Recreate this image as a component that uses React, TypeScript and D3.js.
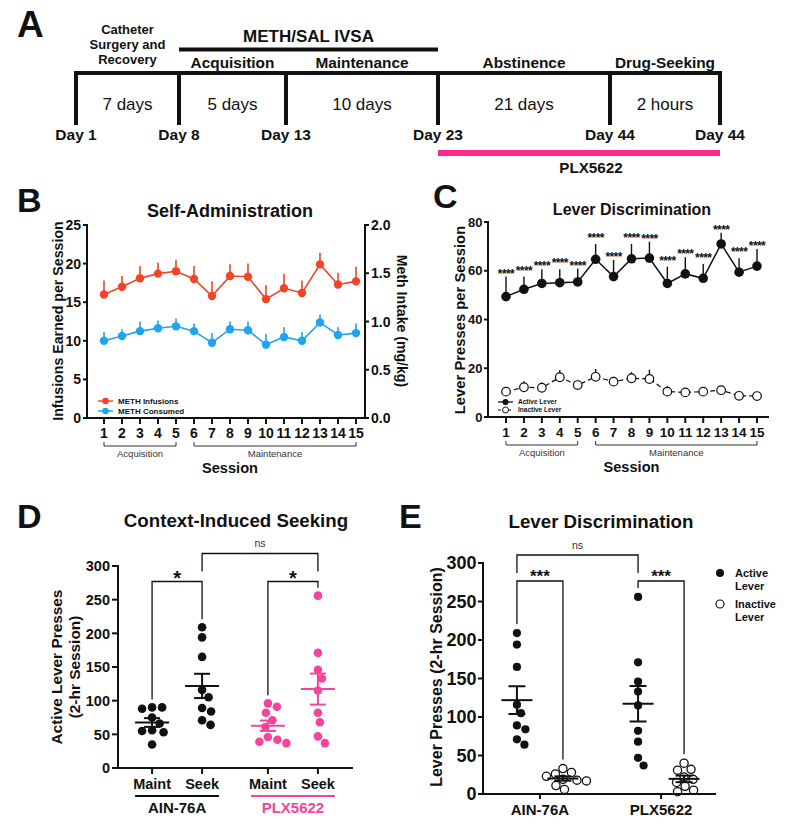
import React from "react";
import * as d3 from "d3";

const FONT = "'Liberation Sans', Arial, Helvetica, sans-serif";
const INK = "#111";
const RED = "#ef4526";
const BLUE = "#1fa4ef";
const PINK = "#f5449b";
const BAR_PINK = "#fc2a8b";

// ---- Panel A: timeline
const timelineDays = ["Day 1", "Day 8", "Day 13", "Day 23", "Day 44", "Day 44"];
const timelineDurations = ["7 days", "5 days", "10 days", "21 days", "2 hours"];
const timelinePhases = [
  ["Catheter", "Surgery and", "Recovery"],
  ["Acquisition"],
  ["Maintenance"],
  ["Abstinence"],
  ["Drug-Seeking"],
];
const ivsaLabel = "METH/SAL IVSA";
const treatmentLabel = "PLX5622";

// ---- Panels B & C: sessions
const sessions = [1, 2, 3, 4, 5, 6, 7, 8, 9, 10, 11, 12, 13, 14, 15];
const phaseNames = ["Acquisition", "Maintenance"];
const phaseStart = [1, 6];
const phaseEnd = [5, 15];

const methInfusions = [16.0, 17.0, 18.1, 18.7, 19.0, 18.0, 15.8, 18.4, 18.3, 15.4, 16.8, 16.2, 19.9, 17.3, 17.7];
const methInfusionsSem = [1.8, 1.4, 1.6, 1.4, 1.5, 1.7, 1.9, 1.5, 1.7, 1.8, 1.9, 1.6, 1.5, 1.5, 1.9];
const methConsumed = [0.8, 0.85, 0.9, 0.93, 0.95, 0.9, 0.78, 0.92, 0.91, 0.76, 0.84, 0.8, 0.99, 0.86, 0.88];
const methConsumedSem = [0.09, 0.07, 0.1, 0.08, 0.08, 0.08, 0.1, 0.08, 0.09, 0.11, 0.1, 0.09, 0.08, 0.08, 0.1];

const activeLever = [49.4, 52.4, 54.8, 55.1, 55.4, 64.7, 57.6, 64.9, 65.2, 54.8, 58.7, 56.9, 71.0, 59.4, 61.9];
const activeLeverSem = [8.2, 5.2, 5.8, 5.5, 5.5, 6.3, 6.8, 6.1, 6.7, 6.9, 6.8, 5.9, 4.6, 5.7, 7.0];
const inactiveLever = [10.4, 12.2, 12.0, 16.3, 13.1, 16.5, 14.5, 15.9, 15.6, 10.4, 10.1, 10.4, 11.0, 8.7, 8.6];
const inactiveLeverSem = [1.5, 2.5, 2.2, 3.0, 2.0, 3.2, 2.0, 2.5, 3.8, 2.3, 1.8, 1.5, 1.0, 1.2, 0.8];
const sessionSig = ["****", "****", "****", "****", "****", "****", "****", "****", "****", "****", "****", "****", "****", "****", "****"];

// ---- Panels D & E: individual rats
const groups = ["AIN-76A", "PLX5622"];
const conditions = ["Maint", "Seek"];
const levers = ["Active", "Inactive"];
const ainMaintActive = [90, 90, 88, 75, 66, 56, 55, 53, 35];
const plxMaintActive = [96, 91, 82, 71, 61, 46, 42, 39, 37];
const ainSeekActive = [209, 194, 165, 116, 105, 89, 84, 71, 64];
const plxSeekActive = [256, 171, 146, 133, 115, 82, 68, 47, 37];
const ainSeekInactive = [33, 28, 26, 23, 19, 18, 17, 11, 6];
const plxSeekInactive = [40, 32, 31, 22, 19, 15, 10, 5, 3];

const sem = (v: number[]) => (d3.deviation(v) || 0) / Math.sqrt(v.length);

// simple beeswarm: smallest horizontal offset that avoids overlap
function swarm(values: number[], y: (v: number) => number, r: number) {
  const placed: { x: number; y: number }[] = [];
  return values.map((v) => {
    const py = y(v);
    let off = 0;
    for (let k = 0; k < 400; k++) {
      const cand = k === 0 ? 0 : (k % 2 ? 1 : -1) * Math.ceil(k / 2) * 0.5;
      if (placed.every((p) => Math.hypot(p.x - cand, p.y - py) >= 2 * r + 1)) {
        off = cand;
        break;
      }
    }
    placed.push({ x: off, y: py });
    return { v, dx: off, y: py };
  });
}

const T = (p: any) => <text fontFamily={FONT} fill={INK} {...p} />;

const YAxis = ({ scale, x, ticks, fmt, fs, side = "left", len = 5, gap = 2 }: any) => {
  const [y0, y1] = scale.range();
  const d = side === "left" ? -1 : 1;
  return (
    <g>
      <line x1={x} x2={x} y1={y0} y2={y1} stroke={INK} strokeWidth={2} strokeLinecap="square" />
      {ticks.map((t: number) => (
        <g key={t}>
          <line x1={x} x2={x + len * d} y1={scale(t)} y2={scale(t)} stroke={INK} strokeWidth={2} />
          <T x={x + (len + gap) * d} y={scale(t)} dy="0.36em" textAnchor={side === "left" ? "end" : "start"} fontSize={fs} fontWeight="bold">
            {fmt(t)}
          </T>
        </g>
      ))}
    </g>
  );
};

const SessionAxis = ({ x, y0, left, right, fs }: any) => (
  <g>
    <line x1={left} x2={right} y1={y0} y2={y0} stroke={INK} strokeWidth={2} strokeLinecap="square" />
    {sessions.map((s) => (
      <g key={s}>
        <line x1={x(s)} x2={x(s)} y1={y0} y2={y0 + 6} stroke={INK} strokeWidth={2} />
        <T x={x(s)} y={y0 + 20} textAnchor="middle" fontSize={fs} fontWeight="bold">{s}</T>
      </g>
    ))}
    {phaseNames.map((p, i) => (
      <g key={p}>
        <path d={`M${x(phaseStart[i])},${y0 + 24}V${y0 + 28}H${x(phaseEnd[i])}V${y0 + 24}`} fill="none" stroke="#333" strokeWidth={1} />
        <T x={(x(phaseStart[i]) + x(phaseEnd[i])) / 2} y={y0 + 39} textAnchor="middle" fontSize={9.5} fill="#333">{p}</T>
      </g>
    ))}
    <T x={(x(1) + x(15)) / 2} y={y0 + 55} textAnchor="middle" fontSize={14.6} fontWeight="bold">Session</T>
  </g>
);

const PanelA = () => {
  const tx = d3.scaleLinear().domain([0, 1, 2, 3, 4, 5]).range([76, 179, 286, 438, 610, 720]);
  const top = 73;
  return (
    <g>
      <T x={17} y={37} fontSize={37} fontWeight="bold">A</T>
      <line x1={tx(0)} x2={tx(5)} y1={top} y2={top} stroke={INK} strokeWidth={4} strokeLinecap="square" />
      {timelineDays.map((d, i) => (
        <g key={i}>
          <line x1={tx(i)} x2={tx(i)} y1={top} y2={125} stroke={INK} strokeWidth={4} />
          <T x={tx(i)} y={140} textAnchor="middle" fontSize={15.5} fontWeight="bold">{d}</T>
        </g>
      ))}
      {timelineDurations.map((d, i) => (
        <T key={d} x={(tx(i) + tx(i + 1)) / 2} y={110} textAnchor="middle" fontSize={17}>{d}</T>
      ))}
      {timelinePhases.map((lines, i) => (
        <T key={i} x={(tx(i) + tx(i + 1)) / 2} textAnchor="middle" fontWeight="bold" fontSize={lines.length > 1 ? 13 : 15.4}>
          {lines.map((l, j) => (
            <tspan key={j} x={(tx(i) + tx(i + 1)) / 2} y={68 - (lines.length - 1 - j) * 15 - (lines.length > 1 ? 4 : 0)}>{l}</tspan>
          ))}
        </T>
      ))}
      <line x1={tx(1)} x2={tx(3)} y1={49.5} y2={49.5} stroke={INK} strokeWidth={4} />
      <T x={(tx(1) + tx(3)) / 2} y={42} textAnchor="middle" fontSize={17} fontWeight="bold">{ivsaLabel}</T>
      <line x1={tx(3)} x2={tx(5)} y1={153} y2={153} stroke={BAR_PINK} strokeWidth={6} />
      <T x={(tx(3) + tx(5)) / 2 + 12} y={173} textAnchor="middle" fontSize={15.2} fontWeight="bold">{treatmentLabel}</T>
    </g>
  );
};

const PanelB = () => {
  const x = d3.scaleLinear().domain([1, 15]).range([104, 356]);
  const yL = d3.scaleLinear().domain([0, 25]).range([418, 225]);
  const yR = d3.scaleLinear().domain([0, 2]).range([418, 225]);
  const redLine = d3.line<number>().x((_, i) => x(sessions[i])).y((d) => yL(d));
  const blueLine = d3.line<number>().x((_, i) => x(sessions[i])).y((d) => yR(d));
  return (
    <g>
      <T x={17} y={212} fontSize={34} fontWeight="bold">B</T>
      <T x={230} y={217} textAnchor="middle" fontSize={18} fontWeight="bold">Self-Administration</T>
      {/* error bars (upper only) */}
      {methInfusions.map((v, i) => (
        <line key={"re" + i} x1={x(sessions[i])} x2={x(sessions[i])} y1={yL(v)} y2={yL(v + methInfusionsSem[i])} stroke={RED} strokeWidth={1.6} />
      ))}
      {methConsumed.map((v, i) => (
        <line key={"be" + i} x1={x(sessions[i])} x2={x(sessions[i])} y1={yR(v)} y2={yR(v + methConsumedSem[i])} stroke={BLUE} strokeWidth={1.6} />
      ))}
      <path d={redLine(methInfusions) || ""} fill="none" stroke={RED} strokeWidth={1.6} />
      <path d={blueLine(methConsumed) || ""} fill="none" stroke={BLUE} strokeWidth={1.6} />
      {methInfusions.map((v, i) => (
        <circle key={"r" + i} cx={x(sessions[i])} cy={yL(v)} r={4.2} fill={RED} />
      ))}
      {methConsumed.map((v, i) => (
        <circle key={"b" + i} cx={x(sessions[i])} cy={yR(v)} r={4.2} fill={BLUE} />
      ))}
      <YAxis scale={yL} x={87} ticks={[0, 5, 10, 15, 20, 25]} fmt={(t: number) => t} fs={14} len={4} gap={2} />
      <YAxis scale={yR} x={365} ticks={[0, 0.5, 1, 1.5, 2]} fmt={d3.format(".1f")} fs={14} side="right" len={4} gap={2} />
      <SessionAxis x={x} y0={418} left={87} right={365} fs={14} />
      {/* legend */}
      {[
        ["METH Infusions", RED],
        ["METH Consumed", BLUE],
      ].map(([lab, c], i) => (
        <g key={lab}>
          <line x1={98} x2={113} y1={401 + i * 10} y2={401 + i * 10} stroke={c} strokeWidth={1.5} />
          <circle cx={105.5} cy={401 + i * 10} r={3.3} fill={c} />
          <T x={118} y={401 + i * 10} dy="0.35em" fontSize={8} fontWeight="bold">{lab}</T>
        </g>
      ))}
      <T transform="translate(63,321) rotate(-90)" textAnchor="middle" fontSize={14.2} fontWeight="bold">Infusions Earned per Session</T>
      <T transform="translate(397,321) rotate(90)" textAnchor="middle" fontSize={14.1} fontWeight="bold">Meth Intake (mg/kg)</T>
    </g>
  );
};

const PanelC = () => {
  const x = d3.scaleLinear().domain([1, 15]).range([506, 757]);
  const y = d3.scaleLinear().domain([0, 80]).range([417, 222]);
  const line = d3.line<number>().x((_, i) => x(sessions[i])).y((d) => y(d));
  return (
    <g>
      <T x={433} y={208} fontSize={34} fontWeight="bold">C</T>
      <T x={632} y={215} textAnchor="middle" fontSize={16} fontWeight="bold">Lever Discrimination</T>
      {activeLever.map((v, i) => (
        <line key={"ae" + i} x1={x(sessions[i])} x2={x(sessions[i])} y1={y(v)} y2={y(v + activeLeverSem[i])} stroke={INK} strokeWidth={1.4} />
      ))}
      {inactiveLever.map((v, i) => (
        <line key={"ie" + i} x1={x(sessions[i])} x2={x(sessions[i])} y1={y(v)} y2={y(v + inactiveLeverSem[i])} stroke={INK} strokeWidth={1.4} />
      ))}
      <path d={line(activeLever) || ""} fill="none" stroke={INK} strokeWidth={1.5} />
      <path d={line(inactiveLever) || ""} fill="none" stroke={INK} strokeWidth={1.2} strokeDasharray="5,3" />
      {activeLever.map((v, i) => (
        <circle key={"a" + i} cx={x(sessions[i])} cy={y(v)} r={4.8} fill={INK} />
      ))}
      {inactiveLever.map((v, i) => (
        <circle key={"i" + i} cx={x(sessions[i])} cy={y(v)} r={4.3} fill="#fff" stroke={INK} strokeWidth={1.2} />
      ))}
      {sessionSig.map((s, i) => (
        <T key={"s" + i} x={x(sessions[i])} y={y(activeLever[i] + activeLeverSem[i]) + 1 - (i % 2) * 3} textAnchor="middle" fontSize={12} letterSpacing={-0.6} fontWeight="bold">{s}</T>
      ))}
      <YAxis scale={y} x={488} ticks={[0, 20, 40, 60, 80]} fmt={(t: number) => t} fs={13} len={4} gap={1.5} />
      <SessionAxis x={x} y0={417} left={488} right={768} fs={13.5} />
      <g>
        <line x1={498} x2={513} y1={402} y2={402} stroke={INK} strokeWidth={1.3} />
        <circle cx={505.5} cy={402} r={3} fill={INK} />
        <T x={518} y={402} dy="0.35em" fontSize={6.5} fontWeight="bold">Active Lever</T>
        <line x1={498} x2={513} y1={410} y2={410} stroke={INK} strokeWidth={1} strokeDasharray="3,2" />
        <circle cx={505.5} cy={410} r={3} fill="#fff" stroke={INK} strokeWidth={1} />
        <T x={518} y={410} dy="0.35em" fontSize={6.5} fontWeight="bold">Inactive Lever</T>
      </g>
      <T transform="translate(465,320) rotate(-90)" textAnchor="middle" fontSize={14.8} fontWeight="bold">Lever Presses per Session</T>
    </g>
  );
};

const Bracket = ({ x1, x2, y, l1, l2, w = 1.3 }: any) => (
  <path d={`M${x1},${l1}V${y}H${x2}V${l2}`} fill="none" stroke={INK} strokeWidth={w} />
);

const MeanSem = ({ cx, values, y, color, half = 16, cap = 8 }: any) => {
  const m = d3.mean(values) as number;
  const s = sem(values);
  return (
    <g stroke={color} strokeWidth={2}>
      <line x1={cx - half} x2={cx + half} y1={y(m)} y2={y(m)} />
      <line x1={cx} x2={cx} y1={y(m - s)} y2={y(m + s)} />
      <line x1={cx - cap} x2={cx + cap} y1={y(m - s)} y2={y(m - s)} />
      <line x1={cx - cap} x2={cx + cap} y1={y(m + s)} y2={y(m + s)} />
    </g>
  );
};

const PanelD = () => {
  const y = d3.scaleLinear().domain([0, 300]).range([768, 566]);
  const gx = d3.scalePoint<string>().domain(groups).range([118, 352]).padding(0.51);
  const cx = d3.scalePoint<string>().domain(conditions).range([-25, 25]);
  const sets = [
    { g: groups[0], c: conditions[0], v: ainMaintActive, col: INK },
    { g: groups[0], c: conditions[1], v: ainSeekActive, col: INK },
    { g: groups[1], c: conditions[0], v: plxMaintActive, col: PINK },
    { g: groups[1], c: conditions[1], v: plxSeekActive, col: PINK },
  ].map((s) => ({ ...s, x: (gx(s.g) as number) + (cx(s.c) as number) }));
  const top = (v: number[]) => y(d3.max(v) as number) - 8;
  const rowY = y(277);
  return (
    <g>
      <T x={17} y={528} fontSize={34} fontWeight="bold">D</T>
      <T x={236} y={527} textAnchor="middle" fontSize={18.7} fontWeight="bold">Context-Induced Seeking</T>
      {/* significance brackets */}
      <Bracket x1={sets[0].x} x2={sets[1].x} y={rowY} l1={top(sets[0].v)} l2={top(sets[1].v)} />
      <Bracket x1={sets[2].x} x2={sets[3].x} y={rowY} l1={top(sets[2].v)} l2={top(sets[3].v)} />
      <Bracket x1={sets[1].x} x2={sets[3].x} y={rowY - 28} l1={rowY - 10} l2={rowY - 10} />
      <T x={(sets[0].x + sets[1].x) / 2} y={rowY + 4} textAnchor="middle" fontSize={20} fontWeight="bold">*</T>
      <T x={(sets[2].x + sets[3].x) / 2} y={rowY + 4} textAnchor="middle" fontSize={20} fontWeight="bold">*</T>
      <T x={(sets[1].x + sets[3].x) / 2} y={rowY - 34} textAnchor="middle" fontSize={10.5} fill="#333">ns</T>
      {sets.map((s, i) => (
        <g key={i}>
          {swarm(s.v, y, 4.3).map((p, j) => (
            <circle key={j} cx={s.x + p.dx} cy={p.y} r={4.3} fill={s.col} />
          ))}
          <MeanSem cx={s.x} values={s.v} y={y} color={s.col} half={17} cap={8} />
        </g>
      ))}
      <YAxis scale={y} x={118} ticks={[0, 50, 100, 150, 200, 250, 300]} fmt={(t: number) => t} fs={14.5} len={6} gap={2} />
      <line x1={118} x2={352} y1={768} y2={768} stroke={INK} strokeWidth={2} strokeLinecap="square" />
      {sets.map((s, i) => (
        <g key={"t" + i}>
          <line x1={s.x} x2={s.x} y1={768} y2={774} stroke={INK} strokeWidth={2} />
          <T x={s.x} y={789} textAnchor="middle" fontSize={14.5} fontWeight="bold">{s.c}</T>
        </g>
      ))}
      {groups.map((g, i) => (
        <g key={g}>
          <line x1={(gx(g) as number) - 42} x2={(gx(g) as number) + 42} y1={796} y2={796} stroke={i ? PINK : INK} strokeWidth={2} />
          <T x={gx(g)} y={813} textAnchor="middle" fontSize={15} fontWeight="bold" fill={i ? PINK : INK}>{g}</T>
        </g>
      ))}
      <T transform="translate(62,667) rotate(-90)" textAnchor="middle" fontSize={15.4} fontWeight="bold">Active Lever Presses</T>
      <T transform="translate(80,667) rotate(-90)" textAnchor="middle" fontSize={15.4} fontWeight="bold">(2-hr Session)</T>
    </g>
  );
};

const PanelE = () => {
  const y = d3.scaleLinear().domain([0, 300]).range([794, 563]);
  const gx = d3.scalePoint<string>().domain(groups).range([483, 718]).padding(0.47);
  const lx = d3.scalePoint<string>().domain(levers).range([-23, 23]);
  const sets = [
    { g: groups[0], l: levers[0], v: ainSeekActive },
    { g: groups[0], l: levers[1], v: ainSeekInactive },
    { g: groups[1], l: levers[0], v: plxSeekActive },
    { g: groups[1], l: levers[1], v: plxSeekInactive },
  ].map((s) => ({ ...s, x: (gx(s.g) as number) + (lx(s.l) as number) }));
  const top = (v: number[]) => y(d3.max(v) as number) - 9;
  const rowY = 581;
  return (
    <g>
      <T x={399} y={528} fontSize={34} fontWeight="bold">E</T>
      <T x={601} y={528} textAnchor="middle" fontSize={18.7} fontWeight="bold">Lever Discrimination</T>
      <Bracket x1={sets[0].x} x2={sets[1].x} y={rowY} l1={top(sets[0].v)} l2={top(sets[1].v)} />
      <Bracket x1={sets[2].x} x2={sets[3].x} y={rowY} l1={top(sets[2].v)} l2={top(sets[3].v)} />
      <Bracket x1={sets[0].x} x2={sets[2].x} y={rowY - 26} l1={rowY - 8} l2={rowY - 8} />
      <T x={(sets[0].x + sets[1].x) / 2} y={rowY + 1} textAnchor="middle" fontSize={17} fontWeight="bold">***</T>
      <T x={(sets[2].x + sets[3].x) / 2} y={rowY + 1} textAnchor="middle" fontSize={17} fontWeight="bold">***</T>
      <T x={(sets[0].x + sets[2].x) / 2} y={rowY - 32} textAnchor="middle" fontSize={10.5} fill="#333">ns</T>
      {sets.map((s, i) => (
        <g key={i}>
          {swarm(s.v, y, 4.1).map((p, j) =>
            s.l === "Active" ? (
              <circle key={j} cx={s.x + p.dx} cy={p.y} r={4.1} fill={INK} />
            ) : (
              <circle key={j} cx={s.x + p.dx} cy={p.y} r={4.1} fill="#fff" stroke={INK} strokeWidth={1.3} />
            )
          )}
          <MeanSem cx={s.x} values={s.v} y={y} color={INK} half={15.5} cap={8.5} />
        </g>
      ))}
      <YAxis scale={y} x={483} ticks={[0, 50, 100, 150, 200, 250, 300]} fmt={(t: number) => t} fs={18} len={5} gap={1.5} />
      <line x1={483} x2={715} y1={794} y2={794} stroke={INK} strokeWidth={2} strokeLinecap="square" />
      {groups.map((g) => (
        <g key={g}>
          <line x1={gx(g)} x2={gx(g)} y1={794} y2={799} stroke={INK} strokeWidth={2} />
          <T x={gx(g)} y={815} textAnchor="middle" fontSize={15} fontWeight="bold">{g}</T>
        </g>
      ))}
      <circle cx={720} cy={573} r={4} fill={INK} />
      <T fontSize={11} fontWeight="bold">
        <tspan x={735} y={577}>Active</tspan>
        <tspan x={735} y={590}>Lever</tspan>
      </T>
      <circle cx={720} cy={604} r={4} fill="#fff" stroke={INK} strokeWidth={1.2} />
      <T fontSize={11} fontWeight="bold">
        <tspan x={735} y={608}>Inactive</tspan>
        <tspan x={735} y={621}>Lever</tspan>
      </T>
      <T transform="translate(442,677) rotate(-90)" textAnchor="middle" fontSize={16} fontWeight="bold">Lever Presses (2-hr Session)</T>
    </g>
  );
};

export default function App() {
  return (
    <svg width={795} height={840} style={{ position: "absolute", left: 0, top: 0, background: "#fff" }}>
      <rect width={795} height={840} fill="#fff" />
      <PanelA />
      <PanelB />
      <PanelC />
      <PanelD />
      <PanelE />
    </svg>
  );
}
